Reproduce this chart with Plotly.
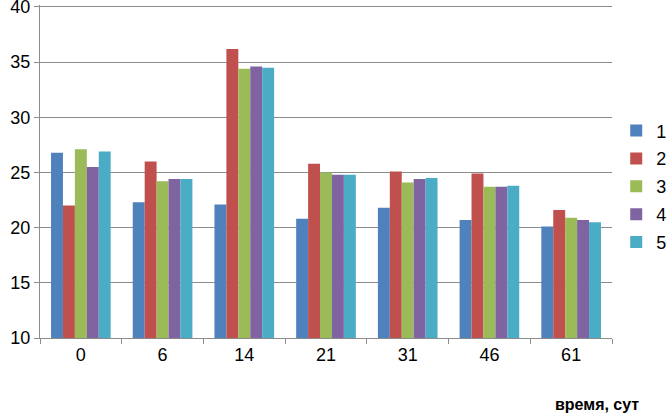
import plotly.graph_objects as go

# time points (days) and five series
days = ["0", "6", "14", "21", "31", "46", "61"]
series_names = ["1", "2", "3", "4", "5"]
s1 = [26.8, 22.3, 22.1, 20.8, 21.8, 20.7, 20.1]
s2 = [22.0, 26.0, 36.2, 25.8, 25.1, 24.9, 21.6]
s3 = [27.1, 24.2, 34.4, 25.0, 24.1, 23.7, 20.9]
s4 = [25.5, 24.4, 34.6, 24.8, 24.4, 23.7, 20.7]
s5 = [26.9, 24.4, 34.5, 24.8, 24.5, 23.8, 20.5]
y_ticks = [10, 15, 20, 25, 30, 35, 40]

colors = ["#4F81BD", "#C0504D", "#9BBB59", "#8064A2", "#4BACC6"]

fig = go.Figure()
for name, vals, col in zip(series_names, [s1, s2, s3, s4, s5], colors):
    fig.add_trace(go.Bar(
        x=days, y=vals, name=name, legendgroup=name,
        marker=dict(color=col, line=dict(width=0)),
    ))

fig.update_layout(
    width=672, height=414,
    margin=dict(l=40, r=60, t=5, b=76),
    paper_bgcolor="white", plot_bgcolor="white",
    barmode="group", bargap=0.27, bargroupgap=0,
    font=dict(family="Liberation Sans", size=18, color="black"),
    legend=dict(xref="container", yref="container", x=0.917, y=0.55,
                xanchor="left", yanchor="middle",
                font=dict(size=18), tracegroupgap=1.5, itemwidth=30),
    showlegend=True,
)
# top of range a hair above 40 so the 40 gridline isn't clipped at the edge
fig.update_yaxes(
    range=[10, 40.18], tickvals=y_ticks, showgrid=True, gridcolor="#8C8C8C",
    gridwidth=1, showline=True, linecolor="#8C8C8C", ticks="outside",
    ticklen=5, tickcolor="#8C8C8C", zeroline=False, automargin=False,
    ticklabeloverflow="allow",
)
fig.update_xaxes(
    showline=True, linecolor="#8C8C8C", ticks="outside", ticklen=5,
    tickcolor="#8C8C8C", tickson="boundaries", showgrid=False,
    automargin=False,
)
fig.add_annotation(
    text="<b>время, сут</b>", x=1.05, y=-0.2, xref="paper", yref="paper",
    xanchor="right", yanchor="middle", showarrow=False, font=dict(size=16),
)

# page body has a default 8px margin; drop it so the chart sits at the corner
fig.write_html("out.html", config={"displayModeBar": False},
               post_script="document.body.style.margin='0';")
